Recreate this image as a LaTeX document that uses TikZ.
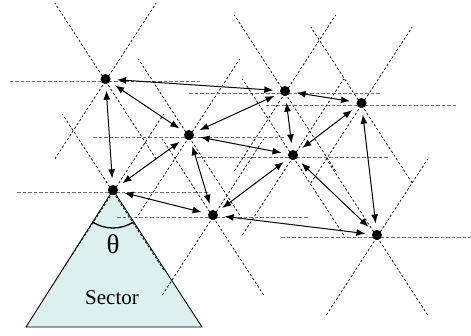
\documentclass[tikz,border=0pt]{standalone}
\usepackage{fontspec}
\setmainfont{Liberation Serif}
\usetikzlibrary{calc,arrows.meta}
\definecolor{sectfill}{HTML}{DDF0F0}
\definecolor{hgray}{HTML}{707070}
\tikzset{
 hline/.style={draw=hgray, line width=1.3pt, dash pattern=on 3.5pt off 2pt},
 dline/.style={draw=black, line width=0.7pt, dash pattern=on 2.5pt off 2pt},
 link/.style={line width=1pt, {Latex[length=9pt,width=7pt]}-{Latex[length=9pt,width=7pt]}, shorten <=6.5pt, shorten >=6.5pt},
 dot/.style={circle, fill=black, inner sep=0pt, minimum size=10pt},
 sector/.style={draw=black, line width=0.9pt, fill=sectfill},
 bigtext/.style={font=\fontsize{21}{24}\selectfont, inner sep=0pt},
}
\begin{document}
\begin{tikzpicture}[x=1pt,y=-1pt]
\useasboundingbox (0,0) rectangle (471,335);
\coordinate (pA) at (105.5,79);
\coordinate (pB) at (189,135);
\coordinate (pC) at (285,91);
\coordinate (pD) at (361.5,103);
\coordinate (pE) at (293,155);
\coordinate (pF) at (113,190);
\coordinate (pG) at (213,215);
\coordinate (pH) at (377,235);
% sector triangle
\coordinate (tl) at (26,327);
\coordinate (tr) at (202,327);
\draw[sector] (pF) -- (tl) -- (tr) -- cycle;
% stars of dashed lines
\foreach \n in {pA,pB,pC,pD,pE,pF,pG,pH} {
  \draw[hline] ($(\n)+(-96,2.5)$) -- ($(\n)+(96,2.5)$);
  \draw[dline] ($(\n)+(0,2)+(57:93)$) -- ($(\n)+(0,2)+(237:93)$);
  \draw[dline] ($(\n)+(0,2)+(123:93)$) -- ($(\n)+(0,2)+(303:93)$);
}
% angle
\draw[line width=1.3pt] ($(pF)+(123:38)$) arc[start angle=123, end angle=57, radius=38];
\node[font=\fontsize{27}{30}\selectfont, inner sep=0pt] (theta) at (113,244) {θ};
\node[bigtext] (sect) at (112,298) {Sector};
% nodes
\foreach \n/\c in {A/pA,B/pB,C/pC,D/pD,E/pE,F/pF,G/pG,H/pH}
  \node[dot] (\n) at (\c) {};
% links
\foreach \a/\b in {A/C,A/B,A/F,B/C,B/E,B/G,B/F,C/E,C/D,D/E,D/H,E/G,E/H,F/G,G/H}
  \draw[link] (\a) -- (\b);
\end{tikzpicture}
\end{document}
